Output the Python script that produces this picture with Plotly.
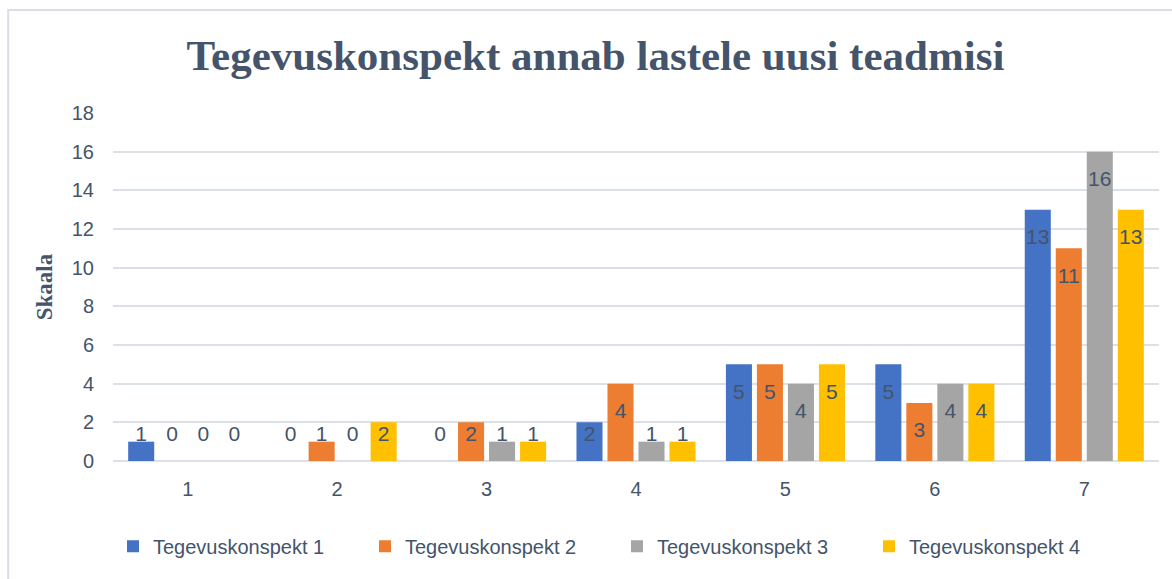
import plotly.graph_objects as go

# data
categories = ["1", "2", "3", "4", "5", "6", "7"]
series_names = ["Tegevuskonspekt 1", "Tegevuskonspekt 2", "Tegevuskonspekt 3", "Tegevuskonspekt 4"]
konspekt_1 = [1, 0, 0, 2, 5, 5, 13]
konspekt_2 = [0, 1, 2, 4, 5, 3, 11]
konspekt_3 = [0, 0, 1, 1, 4, 4, 16]
konspekt_4 = [0, 2, 1, 1, 5, 4, 13]
y_ticks = [0, 2, 4, 6, 8, 10, 12, 14, 16, 18]

colors = ["#4472C4", "#ED7D31", "#A5A5A5", "#FFC000"]
text_color = "#44546A"
grid_color = "#DCE1E8"

fig = go.Figure()

all_series = [konspekt_1, konspekt_2, konspekt_3, konspekt_4]
for i, (name, vals) in enumerate(zip(series_names, all_series)):
    fig.add_trace(go.Bar(
        x=categories, y=vals, name=name,
        marker=dict(color=colors[i], line=dict(width=0)),
        offsetgroup=str(i), alignmentgroup="a",
        hoverinfo="x+y+name",
    ))

# value labels (Excel "inside end", kept above the axis for tiny bars)
for i, vals in enumerate(all_series):
    fig.add_trace(go.Scatter(
        x=categories, y=[max(v - 1.5, 1.3) for v in vals],
        mode="text", text=[str(v) for v in vals],
        textfont=dict(family="Liberation Sans", size=21, color=text_color),
        offsetgroup=str(i), alignmentgroup="a",
        showlegend=False, hoverinfo="skip",
    ))

fig.update_layout(
    width=1172, height=579,
    margin=dict(l=113, r=13, t=113, b=118),
    paper_bgcolor="white", plot_bgcolor="white",
    barmode="group", bargap=0.17, bargroupgap=0.16,
    scattermode="group", scattergap=0.17,
    title=dict(
        text="<b>Tegevuskonspekt annab lastele uusi teadmisi</b>",
        font=dict(family="Liberation Serif", size=43, color=text_color),
        x=0.508, xanchor="center", y=0.905, yanchor="middle",
    ),
    legend=dict(
        orientation="h", x=0.0, xanchor="left", y=-0.245, yanchor="middle",
        font=dict(family="Liberation Sans", size=20, color=text_color),
        entrywidth=207, entrywidthmode="pixels",
        itemwidth=30, traceorder="normal",
    ),
    shapes=[dict(
        type="rect", xref="paper", yref="paper",
        x0=-0.1002, x1=1.2, y0=-0.5, y1=1.296,
        line=dict(color="#D9DEE6", width=2), layer="below",
    )],
)

fig.update_xaxes(
    type="category", showgrid=False, showline=False, ticks="",
    tickfont=dict(family="Liberation Sans", size=20, color=text_color),
    ticklabelstandoff=14,
)
fig.update_yaxes(
    range=[0, 18], tickvals=y_ticks,
    showgrid=True, gridcolor=grid_color, gridwidth=2,
    zeroline=True, zerolinecolor=grid_color, zerolinewidth=2,
    tickfont=dict(family="Liberation Sans", size=20, color=text_color),
    ticklabelstandoff=18,
    title=dict(text="<b>Skaala</b>", font=dict(family="Liberation Serif", size=23, color=text_color), standoff=12),
)

# remove the page's default body margin so the figure sits at (0, 0)
fig.write_html("out.html", config={"displayModeBar": False},
               post_script="document.body.style.margin='0';")
